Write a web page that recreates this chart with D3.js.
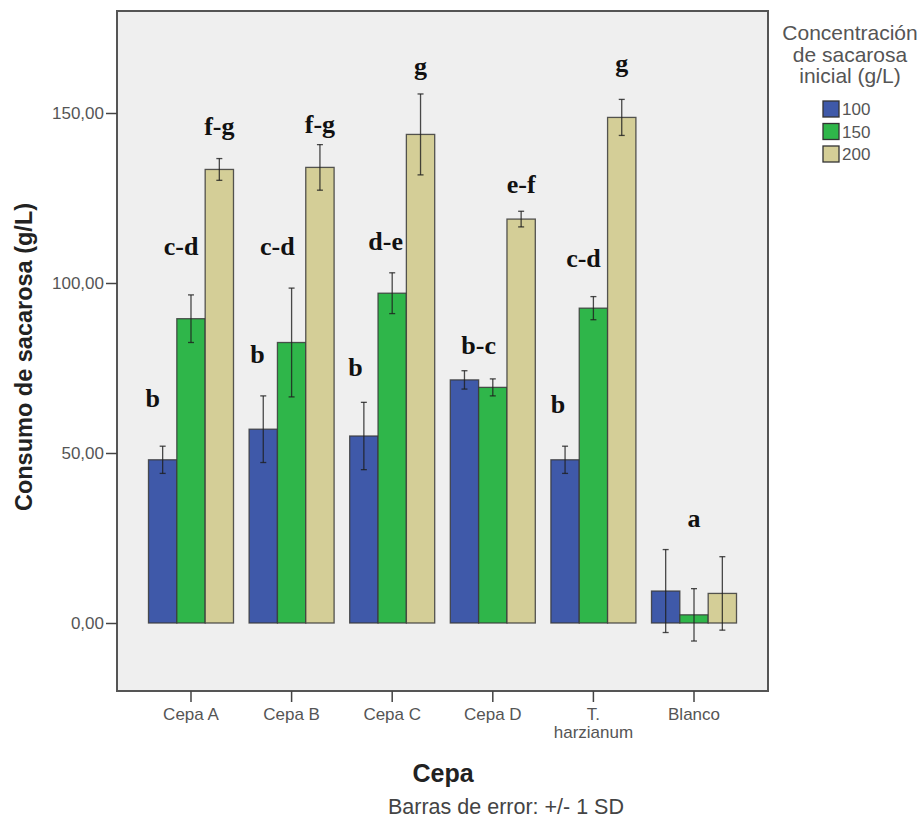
<!DOCTYPE html>
<html>
<head>
<meta charset="utf-8">
<script src="https://cdn.jsdelivr.net/npm/d3@7"></script>
<style>
  body { margin: 0; background: #fff; }
  svg text { font-family: "Liberation Sans", Arial, sans-serif; }
</style>
</head>
<body>
<div id="chart"></div>
<script>
// categories and series
var categories = ["Cepa A", "Cepa B", "Cepa C", "Cepa D", "T. harzianum", "Blanco"];
var seriesKeys = ["100", "150", "200"];

// means and SD (g/L)
var mean100 = [48.0, 57.0, 55.0, 71.5, 48.0, 9.4];
var sd100   = [4.0, 9.8, 9.9, 2.7, 4.0, 12.2];
var mean150 = [89.5, 82.5, 97.0, 69.3, 92.6, 2.4];
var sd150   = [7.0, 16.0, 6.0, 2.5, 3.4, 7.7];
var mean200 = [133.4, 134.0, 143.7, 118.8, 148.7, 8.7];
var sd200   = [3.2, 6.7, 11.9, 2.3, 5.3, 10.8];

var yTicks = [0, 50, 100, 150];

// significance letters: category, bar slot (0..2), text, value where the letter sits
var letters = [
    ["Cepa A", -0.35, "b", 63.5], ["Cepa A", 0.65, "c-d", 108.2], ["Cepa A", 2, "f-g", 143.5],
    ["Cepa B", -0.2, "b", 76.5], ["Cepa B", 0.5, "c-d", 108.2], ["Cepa B", 2, "f-g", 144.1],
    ["Cepa C", -0.3, "b", 72.6], ["Cepa C", 0.77, "d-e", 109.7], ["Cepa C", 2, "g", 161.2],
    ["Cepa D", 0.5, "b-c", 79.1], ["Cepa D", 2, "e-f", 126.5],
    ["T. harzianum", -0.25, "b", 61.8], ["T. harzianum", 0.65, "c-d", 104.7], ["T. harzianum", 2, "g", 162.0],
    ["Blanco", 1, "a", 28.2]
];

var colors = ["#3f59a9", "#2fb64a", "#d4ce97"];

var means = [mean100, mean150, mean200];
var sds = [sd100, sd150, sd200];

var width = 923,
    height = 819,
    plot = { left: 117, right: 768, top: 11, bottom: 691 };

var svg = d3.select("#chart").append("svg")
    .attr("width", width)
    .attr("height", height);

var xScale = d3.scaleBand()
    .domain(categories)
    .range([plot.left, plot.right])
    .paddingInner(0.155)
    .paddingOuter(0.313);

var xSub = d3.scaleBand()
    .domain(seriesKeys)
    .range([0, xScale.bandwidth()]);

var yScale = d3.scaleLinear()
    .domain([-20, 180])
    .range([plot.bottom, plot.top]);

// plot background
svg.append("rect")
    .attr("x", plot.left)
    .attr("y", plot.top)
    .attr("width", plot.right - plot.left)
    .attr("height", plot.bottom - plot.top)
    .attr("fill", "#efefef");

// build rows for bars
var rows = [];
categories.forEach(function (c, i) {
    seriesKeys.forEach(function (s, j) {
        rows.push({ cat: c, key: s, k: j, mean: means[j][i], sd: sds[j][i] });
    });
});

var barG = svg.append("g");

barG.selectAll("rect")
    .data(rows)
    .enter().append("rect")
    .attr("x", function (d) { return xScale(d.cat) + xSub(d.key); })
    .attr("y", function (d) { return yScale(Math.max(0, d.mean)); })
    .attr("width", xSub.bandwidth())
    .attr("height", function (d) { return Math.abs(yScale(0) - yScale(d.mean)); })
    .attr("fill", function (d) { return colors[d.k]; })
    .attr("stroke", "#3a3a3a")
    .attr("stroke-opacity", 0.85)
    .attr("stroke-width", 1.3);

// error bars
var errG = svg.append("g")
    .attr("stroke", "#1e1e1e")
    .attr("stroke-opacity", 0.8)
    .attr("stroke-width", 1.3);

var cx = function (d) { return xScale(d.cat) + xSub(d.key) + xSub.bandwidth() / 2; };

errG.selectAll("line.v")
    .data(rows)
    .enter().append("line")
    .attr("class", "v")
    .attr("x1", cx).attr("x2", cx)
    .attr("y1", function (d) { return yScale(d.mean - d.sd); })
    .attr("y2", function (d) { return yScale(d.mean + d.sd); });

["lo", "hi"].forEach(function (end) {
    errG.selectAll("line." + end)
        .data(rows)
        .enter().append("line")
        .attr("class", end)
        .attr("x1", function (d) { return cx(d) - 3; })
        .attr("x2", function (d) { return cx(d) + 3; })
        .attr("y1", function (d) { return yScale(end == "lo" ? d.mean - d.sd : d.mean + d.sd); })
        .attr("y2", function (d) { return yScale(end == "lo" ? d.mean - d.sd : d.mean + d.sd); });
});

// letters
svg.append("g").selectAll("text")
    .data(letters)
    .enter().append("text")
    .attr("x", function (d) {
        return xScale(d[0]) + xSub.bandwidth() * (d[1] + 0.5);
    })
    .attr("y", function (d) { return yScale(d[3]); })
    .attr("text-anchor", "middle")
    .style("font-family", "'Liberation Serif', 'Times New Roman', serif")
    .style("font-weight", "bold")
    .style("font-size", "26px")
    .attr("fill", "#111")
    .text(function (d) { return d[2]; });

// frame
svg.append("rect")
    .attr("x", plot.left)
    .attr("y", plot.top)
    .attr("width", plot.right - plot.left)
    .attr("height", plot.bottom - plot.top)
    .attr("fill", "none")
    .attr("stroke", "#555")
    .attr("stroke-width", 2);

// y axis
var yAxis = d3.axisLeft(yScale)
    .tickValues(yTicks)
    .tickSize(11)
    .tickPadding(2)
    .tickFormat(function (d) { return d.toFixed(2).replace(".", ","); });

var yG = svg.append("g")
    .attr("transform", "translate(" + plot.left + ",0)")
    .call(yAxis);
yG.select(".domain").remove();
yG.selectAll(".tick line").attr("stroke", "#444").attr("stroke-width", 1.5);
yG.selectAll(".tick text")
    .attr("fill", "#555")
    .style("font-size", "17px")
    .style("font-family", "'Liberation Sans', Arial, sans-serif");

// x axis
var xAxis = d3.axisBottom(xScale)
    .tickSize(11)
    .tickPadding(6);

var xG = svg.append("g")
    .attr("transform", "translate(0," + plot.bottom + ")")
    .call(xAxis);
xG.select(".domain").remove();
xG.selectAll(".tick line").attr("stroke", "#444").attr("stroke-width", 1.5);
xG.selectAll(".tick text")
    .attr("fill", "#555")
    .style("font-size", "17px")
    .style("font-family", "'Liberation Sans', Arial, sans-serif")
    .each(function (d) {
        var t = d3.select(this);
        var parts = d.indexOf(". ") > 0 ? [d.slice(0, d.indexOf(". ") + 1), d.slice(d.indexOf(". ") + 2)] : [d];
        if (parts.length > 1) {
            t.text(null);
            parts.forEach(function (p, i) {
                t.append("tspan")
                    .attr("x", 0)
                    .attr("dy", i == 0 ? "0.71em" : "1.05em")
                    .text(p);
            });
            t.attr("dy", null);
        }
    });

// axis titles
svg.append("text")
    .attr("transform", "translate(32," + ((plot.top + plot.bottom) / 2 + 6) + ") rotate(-90)")
    .attr("text-anchor", "middle")
    .style("font-size", "23.5px")
    .style("font-weight", "bold")
    .attr("fill", "#222")
    .text("Consumo de sacarosa (g/L)");

svg.append("text")
    .attr("x", 443)
    .attr("y", 782)
    .attr("text-anchor", "middle")
    .style("font-size", "25px")
    .style("font-weight", "bold")
    .attr("fill", "#222")
    .text("Cepa");

svg.append("text")
    .attr("x", 506)
    .attr("y", 814)
    .attr("text-anchor", "middle")
    .style("font-size", "21.5px")
    .attr("fill", "#444")
    .text("Barras de error: +/- 1 SD");

// legend
var legend = svg.append("g");
["Concentración", "de sacarosa", "inicial (g/L)"].forEach(function (t, i) {
    legend.append("text")
        .attr("x", 850)
        .attr("y", 40 + i * 21.5)
        .attr("text-anchor", "middle")
        .style("font-size", "21px")
        .attr("fill", "#555")
        .text(t);
});

var items = legend.selectAll("g.item")
    .data(seriesKeys)
    .enter().append("g")
    .attr("class", "item")
    .attr("transform", function (d, i) { return "translate(823," + (101 + i * 22.5) + ")"; });

items.append("rect")
    .attr("width", 16)
    .attr("height", 16)
    .attr("fill", function (d, i) { return colors[i]; })
    .attr("stroke", "#333")
    .attr("stroke-width", 1.3);

items.append("text")
    .attr("x", 19)
    .attr("y", 14)
    .style("font-size", "17px")
    .attr("fill", "#555")
    .text(function (d) { return d; });
</script>
</body>
</html>
